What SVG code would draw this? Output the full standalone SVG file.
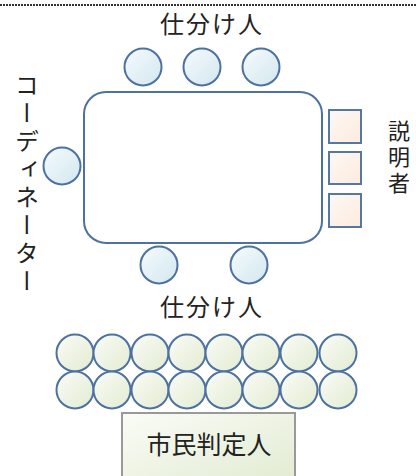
<svg xmlns="http://www.w3.org/2000/svg" width="416" height="476" viewBox="0 0 416 476">
<defs>
<linearGradient id="gBlue" x1="0" y1="0" x2="1" y2="1"><stop offset="0" stop-color="#f6fbfd"/><stop offset="1" stop-color="#d2e7ef"/></linearGradient>
<linearGradient id="gPeach" x1="0" y1="0" x2="1" y2="1"><stop offset="0" stop-color="#fdf8f4"/><stop offset="1" stop-color="#fcebdf"/></linearGradient>
<linearGradient id="gGreen" x1="0" y1="0" x2="1" y2="1"><stop offset="0" stop-color="#fafcf6"/><stop offset="1" stop-color="#e2ebd2"/></linearGradient>
<style>
.t{font-family:"Noto Sans CJK JP","Noto Sans CJK SC",sans-serif;fill:#222;}
.seat{fill:url(#gBlue);stroke:#4d71a0;stroke-width:2;}
.aud{fill:url(#gGreen);stroke:#4d71a0;stroke-width:2;}
.sq{fill:url(#gPeach);stroke:#5677a3;stroke-width:2;}
</style>
</defs>
<line x1="0" y1="5" x2="416" y2="5" stroke="#333" stroke-width="2" stroke-dasharray="2,1"/>
<g id="table"><rect x="84" y="92" width="238" height="151" rx="22" ry="22" fill="#fff" stroke="#4d71a0" stroke-width="2"/></g>
<g id="shiwake-top">
<text class="t" x="212" y="33" font-size="24" text-anchor="middle" letter-spacing="2">仕分け人</text>
<circle class="seat" cx="143" cy="67" r="18.5"/>
<circle class="seat" cx="202" cy="67" r="18.5"/>
<circle class="seat" cx="261" cy="67" r="18.5"/>
</g>
<g id="coordinator">
<text class="t" x="27" y="73" font-size="24" writing-mode="vertical-rl" letter-spacing="4">コーディネーター</text>
<circle class="seat" cx="62" cy="166" r="18.5"/>
</g>
<g id="setsumeisha">
<rect class="sq" x="329" y="110" width="32" height="33"/>
<rect class="sq" x="329" y="152" width="32" height="32"/>
<rect class="sq" x="329" y="194" width="32" height="33"/>
<text class="t" x="399" y="120" font-size="22" writing-mode="vertical-rl" letter-spacing="4">説明者</text>
</g>
<g id="shiwake-bottom">
<circle class="seat" cx="159" cy="265" r="18.5"/>
<circle class="seat" cx="249" cy="265" r="18.5"/>
<text class="t" x="212" y="316" font-size="24" text-anchor="middle" letter-spacing="2">仕分け人</text>
</g>
<g id="audience">
<circle class="aud" cx="75" cy="353" r="18.5"/><circle class="aud" cx="112" cy="353" r="18.5"/><circle class="aud" cx="150" cy="353" r="18.5"/><circle class="aud" cx="187" cy="353" r="18.5"/><circle class="aud" cx="224" cy="353" r="18.5"/><circle class="aud" cx="261" cy="353" r="18.5"/><circle class="aud" cx="299" cy="353" r="18.5"/><circle class="aud" cx="338" cy="353" r="18.5"/>
<circle class="aud" cx="75" cy="390" r="18.5"/><circle class="aud" cx="112" cy="390" r="18.5"/><circle class="aud" cx="150" cy="390" r="18.5"/><circle class="aud" cx="187" cy="390" r="18.5"/><circle class="aud" cx="224" cy="390" r="18.5"/><circle class="aud" cx="261" cy="390" r="18.5"/><circle class="aud" cx="299" cy="390" r="18.5"/><circle class="aud" cx="338" cy="390" r="18.5"/>
</g>
<g id="shimin">
<rect x="122" y="413" width="173" height="70" fill="url(#gGreen)" stroke="#999" stroke-width="2"/>
<text class="t" x="209" y="454" font-size="25" text-anchor="middle">市民判定人</text>
</g>
</svg>
